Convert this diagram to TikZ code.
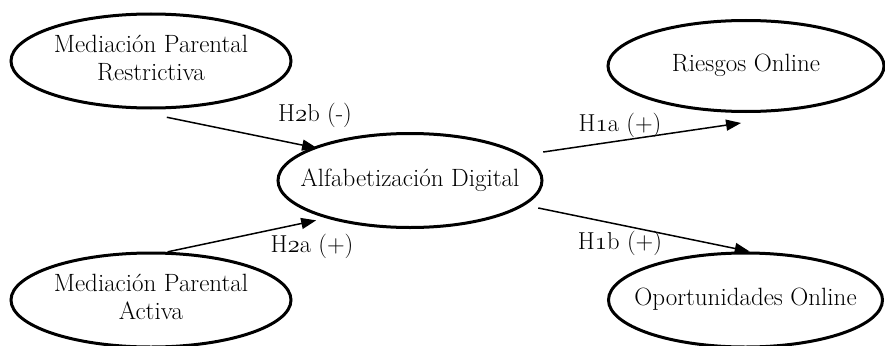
\documentclass[tikz,border=0pt]{standalone}
\usepackage{fontspec}
\usetikzlibrary{shapes.geometric,arrows.meta}
% old-style figures taken from the math italic font
\newcommand\osnum[1]{{\fontencoding{OML}\fontfamily{cmm}\fontseries{m}\fontshape{it}\selectfont #1}}
% centred text that does not widen its ellipse
\newcommand\ctext[1]{\raisebox{-3pt}{\makebox[0pt]{\begin{tabular}{@{}c@{}}#1\end{tabular}}}}
\tikzset{
  construct/.style={draw, ellipse, line width=3pt, inner sep=0pt,
    font=\fontsize{25}{28.5}\selectfont},
  path link/.style={line width=1.5pt, -{Triangle[length=15pt,width=11pt]}},
  hyp/.style={inner sep=0pt, font=\fontsize{24.5}{26}\selectfont}
}
\begin{document}
\begin{tikzpicture}[x=1pt,y=-1pt]
  \useasboundingbox (0,0) rectangle (885,345);
  \clip (0,0) rectangle (885,345);

  % constructs
  \node[construct, minimum width=280pt, minimum height=94pt] (mpr) at (151,61)
    {\ctext{Mediación Parental\\Restrictiva}};
  \node[construct, minimum width=280pt, minimum height=94pt] (mpa) at (151,300)
    {\ctext{Mediación Parental\\Activa}};
  \node[construct, minimum width=264pt, minimum height=94pt] (alf) at (410,180.5)
    {\ctext{Alfabetización Digital}};
  \node[construct, minimum width=276pt, minimum height=91pt] (ries) at (746,66)
    {\ctext{Riesgos Online}};
  \node[construct, minimum width=274pt, minimum height=94pt] (opor) at (745.5,300)
    {\ctext{Oportunidades Online}};

  % hypothesised paths
  \draw[path link] ([shift={(2,8)}]mpr.-74) -- ([shift={(4,1)}]alf.161);
  \draw[path link] (mpa.71) -- ([shift={(-7,3)}]alf.203);
  \draw[path link] ([shift={(18,-4)}]alf.12) -- ([shift={(0,10)}]ries.-96);
  \draw[path link] ([shift={(13,3)}]alf.-12) -- (opor.85);

  % path labels
  \node[hyp] (h2b) at (315,115) {H\osnum{2}b (-)};
  \node[hyp] (h2a) at (312,246) {H\osnum{2}a (+)};
  \node[hyp] (h1a) at (620,125) {H\osnum{1}a (+)};
  \node[hyp] (h1b) at (620,243) {H\osnum{1}b (+)};
\end{tikzpicture}
\end{document}
